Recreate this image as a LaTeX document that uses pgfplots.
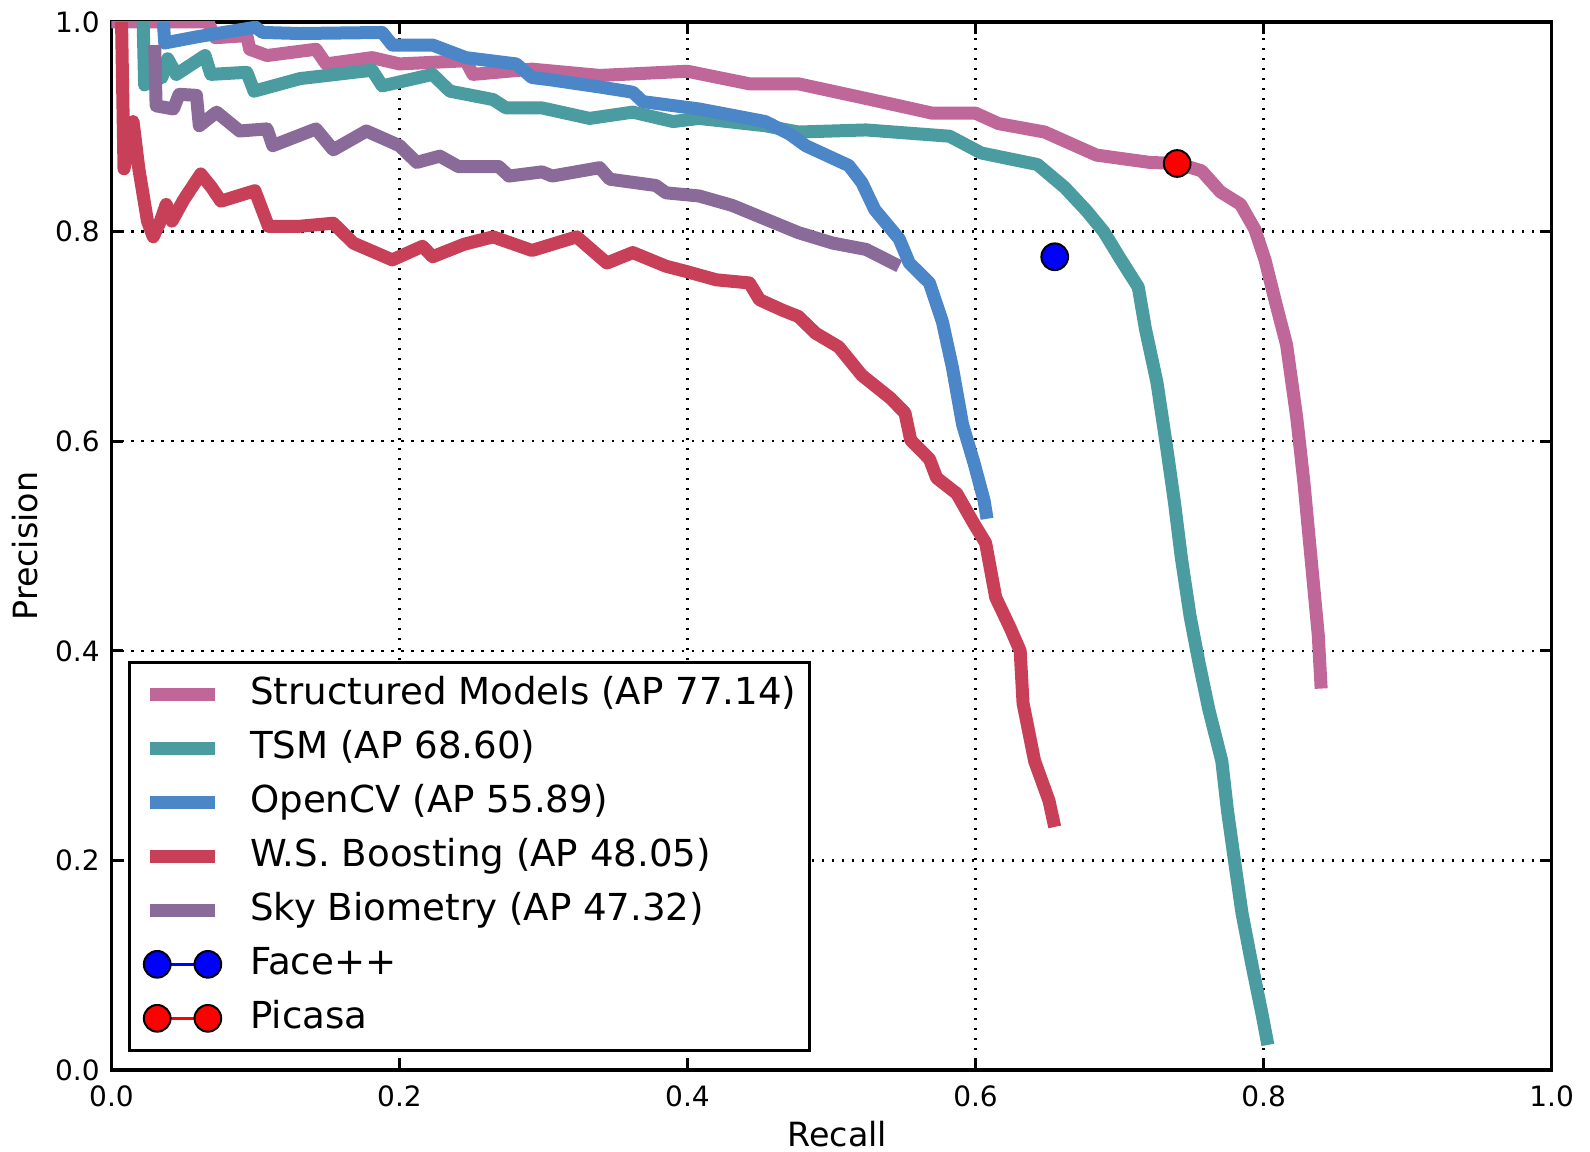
\documentclass[border=0pt]{standalone}
\usepackage{fontspec}
\setmainfont{DejaVu Sans}
\usepackage{pgfplots}
\pgfplotsset{compat=1.18}
\definecolor{cPink}{RGB}{192,103,154}
\definecolor{cTeal}{RGB}{74,156,160}
\definecolor{cBlue}{RGB}{74,134,200}
\definecolor{cRed}{RGB}{200,64,88}
\definecolor{cPurp}{RGB}{138,106,152}
\begin{document}
\begin{tikzpicture}
\path[use as bounding box] (-33.44pt,-24.30pt) rectangle (443.53pt,321.00pt);
\begin{axis}[
  at={(0pt,0pt)}, anchor=south west,
  scale only axis,
  width=432pt, height=314.4pt,
  xmin=0, xmax=1, ymin=0, ymax=1,
  xtick={0,0.2,...,1.0}, ytick={0,0.2,...,1.0},
  xticklabels={0.0,0.2,0.4,0.6,0.8,1.0},
  yticklabels={0.0,0.2,0.4,0.6,0.8,1.0},
  tick align=inside,
  major tick length=3.6pt,
  every tick/.style={black, line width=0.9pt},
  axis line style={line width=1.1pt},
  grid=major,
  major grid style={black, line width=0.7pt, dash pattern=on 0.7pt off 2.3pt},
  ticklabel style={font=\fontsize{8.4}{10}\selectfont},
  /pgf/number format/assume math mode=true,
  xticklabel style={yshift=-1.2pt},
  xlabel={Recall}, ylabel={Precision},
  label style={font=\fontsize{8.4}{10}\selectfont, inner sep=0pt},
  every axis x label/.style={at={(rel axis cs:0.504,0)}, yshift=-19.2pt, anchor=center},
  every axis y label/.style={at={(rel axis cs:0,0.5)}, xshift=-26pt, rotate=90, anchor=center},
  legend style={at={(rel axis cs:0.0115,0.0174)}, anchor=south west, draw=black, line width=0.9pt,
    inner xsep=4pt, inner ysep=1.5pt,
    font=\fontsize{11.15}{13}\selectfont,
    cells={anchor=west},
    nodes={inner ysep=2.5pt, inner xsep=0pt, text height=8.6pt, text depth=2.6pt},
    /tikz/every odd column/.append style={column sep=8.4pt}},
  curve/.style={line width=3.9pt, line cap=butt, line join=round,
    legend image code/.code={\draw[##1] (0pt,0pt) -- (19.5pt,0pt);}},
]
\addplot[curve, color=cPink] coordinates {
(0,1.0) (0.067,1.0) (0.072,0.985) (0.094,0.987) (0.096,0.974) (0.108,0.968) (0.142,0.974) (0.149,0.96) (0.181,0.966) (0.200,0.96) (0.246,0.963) (0.251,0.950) (0.292,0.955) (0.339,0.949) (0.40,0.953) (0.443,0.941) (0.477,0.941) (0.524,0.927) (0.57,0.913) (0.60,0.913) (0.616,0.903) (0.648,0.895) (0.684,0.873) (0.721,0.866) (0.740,0.865) (0.757,0.858) (0.77,0.838) (0.784,0.826) (0.794,0.802) (0.801,0.773) (0.809,0.729) (0.816,0.692) (0.823,0.623) (0.828,0.561) (0.833,0.488) (0.838,0.415) (0.840,0.364)
};
\addlegendentry{Structured Models (AP 77.14)}
\addplot[curve, color=cTeal] coordinates {
(0.022,1.0) (0.023,0.940) (0.029,0.946) (0.035,0.947) (0.039,0.965) (0.045,0.950) (0.065,0.968) (0.069,0.950) (0.094,0.952) (0.099,0.934) (0.131,0.946) (0.181,0.954) (0.188,0.939) (0.223,0.950) (0.235,0.934) (0.265,0.926) (0.274,0.918) (0.299,0.918) (0.332,0.908) (0.362,0.914) (0.390,0.905) (0.408,0.908) (0.454,0.901) (0.477,0.895) (0.524,0.897) (0.582,0.891) (0.604,0.875) (0.643,0.864) (0.662,0.842) (0.677,0.82) (0.689,0.80) (0.701,0.773) (0.713,0.747) (0.718,0.707) (0.726,0.656) (0.732,0.601) (0.738,0.543) (0.743,0.488) (0.749,0.433) (0.755,0.39) (0.762,0.344) (0.771,0.295) (0.775,0.247) (0.780,0.198) (0.785,0.15) (0.792,0.10) (0.799,0.053) (0.803,0.024)
};
\addlegendentry{TSM (AP 68.60)}
\addplot[curve, color=cBlue] coordinates {
(0.036,1.0) (0.037,0.980) (0.06,0.986) (0.1,0.995) (0.105,0.99) (0.131,0.989) (0.188,0.99) (0.195,0.978) (0.223,0.978) (0.246,0.966) (0.281,0.96) (0.292,0.947) (0.304,0.945) (0.339,0.938) (0.362,0.933) (0.369,0.924) (0.408,0.917) (0.431,0.911) (0.454,0.905) (0.471,0.893) (0.482,0.882) (0.512,0.863) (0.521,0.847) (0.530,0.821) (0.547,0.793) (0.554,0.770) (0.568,0.751) (0.577,0.714) (0.584,0.670) (0.591,0.616) (0.599,0.579) (0.606,0.543) (0.608,0.526)
};
\addlegendentry{OpenCV (AP 55.89)}
\addplot[curve, color=cRed] coordinates {
(0.007,1.0) (0.0087,0.86) (0.015,0.905) (0.019,0.86) (0.025,0.81) (0.029,0.795) (0.034,0.81) (0.038,0.826) (0.042,0.81) (0.05,0.83) (0.062,0.855) (0.0696,0.842) (0.076,0.829) (0.09,0.835) (0.0996,0.839) (0.109,0.805) (0.13,0.805) (0.154,0.808) (0.168,0.789) (0.195,0.773) (0.216,0.786) (0.223,0.776) (0.245,0.788) (0.265,0.795) (0.292,0.782) (0.323,0.795) (0.344,0.770) (0.362,0.780) (0.385,0.767) (0.399,0.762) (0.420,0.754) (0.443,0.751) (0.450,0.735) (0.466,0.725) (0.477,0.719) (0.489,0.703) (0.505,0.690) (0.521,0.663) (0.541,0.641) (0.551,0.627) (0.555,0.601) (0.568,0.583) (0.573,0.565) (0.587,0.550) (0.599,0.521) (0.607,0.503) (0.614,0.451) (0.624,0.422) (0.631,0.40) (0.633,0.35) (0.641,0.295) (0.651,0.257) (0.655,0.232)
};
\addlegendentry{W.S. Boosting (AP 48.05)}
\addplot[curve, color=cPurp] coordinates {
(0.030,0.978) (0.031,0.920) (0.043,0.917) (0.047,0.931) (0.059,0.930) (0.061,0.901) (0.073,0.914) (0.089,0.896) (0.108,0.898) (0.112,0.882) (0.142,0.898) (0.154,0.878) (0.177,0.896) (0.200,0.882) (0.212,0.866) (0.228,0.872) (0.241,0.862) (0.269,0.862) (0.276,0.853) (0.299,0.857) (0.306,0.853) (0.339,0.861) (0.346,0.850) (0.378,0.844) (0.385,0.837) (0.408,0.834) (0.431,0.825) (0.454,0.812) (0.477,0.799) (0.501,0.789) (0.524,0.783) (0.547,0.767)
};
\addlegendentry{Sky Biometry (AP 47.32)}
\addplot[only marks, mark=*, mark size=4pt, mark options={fill=blue, draw=black, line width=0.6pt},
  legend image code/.code={
    \draw[blue, line width=0.9pt] (2.1pt,0pt) -- (17.3pt,0pt);
    \draw[fill=blue, draw=black, line width=0.6pt] (2.1pt,0pt) circle (4pt) (17.3pt,0pt) circle (4pt);}]
  coordinates {(0.655,0.776)};
\addlegendentry{Face++}
\addplot[only marks, mark=*, mark size=4pt, mark options={fill=red, draw=black, line width=0.6pt},
  legend image code/.code={
    \draw[red, line width=0.9pt] (2.1pt,0pt) -- (17.3pt,0pt);
    \draw[fill=red, draw=black, line width=0.6pt] (2.1pt,0pt) circle (4pt) (17.3pt,0pt) circle (4pt);}]
  coordinates {(0.740,0.865)};
\addlegendentry{Picasa}
\end{axis}
\end{tikzpicture}
\end{document}
